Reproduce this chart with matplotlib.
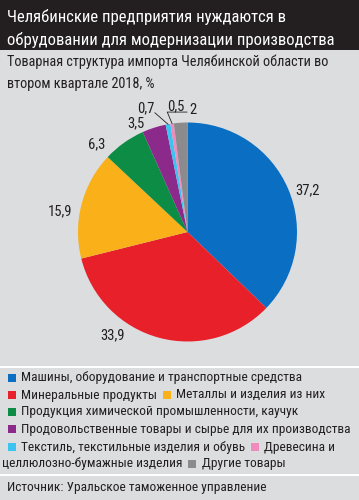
import matplotlib
matplotlib.use("Agg")
import matplotlib.pyplot as plt
from matplotlib.patches import Rectangle
from matplotlib import font_manager as fm
import numpy as np

# ---- data ----
categories = [
    "Машины, оборудование и транспортные средства",
    "Минеральные продукты",
    "Металлы и изделия из них",
    "Продукция химической промышленности, каучук",
    "Продовольственные товары и сырье для их производства",
    "Текстиль, текстильные изделия и обувь",
    "Древесина и целлюлозно-бумажные изделия",
    "Другие товары",
]
values = [37.2, 33.9, 15.9, 6.3, 3.5, 0.7, 0.5, 2]
value_labels = ["37,2", "33,9", "15,9", "6,3", "3,5", "0,7", "0,5", "2"]
colors = ["#0a6fc2", "#e8202a", "#f9b019", "#0c8c44", "#8c2a8c", "#3cc3f0", "#f08cbb", "#8b8b8d"]

title = "Челябинские предприятия нуждаются в\nобрудовании для модернизации производства"
subtitle = "Товарная структура импорта Челябинской области во\nвтором квартале 2018, %"
source = "Источник: Уральское таможенное управление"

# label placement (angle deg, radius factor)
label_pos = [(19.2, 1.165), (-126.2, 1.166), (171, 1.18), (136, 1.15),
             (115.3, 1.10), (108.5, 1.19), (95.2, 1.155), (87.4, 1.115)]

def pick_font():
    for f in ["Liberation Sans Narrow", "DejaVu Sans Condensed", "Roboto Condensed", "Open Sans Condensed"]:
        try:
            fm.findfont(fm.FontProperties(family=f), fallback_to_default=False)
            return f
        except Exception:
            pass
    return "DejaVu Sans"

FONT = pick_font()
plt.rcParams['font.family'] = [FONT, 'DejaVu Sans']

W, H = 359, 500
fig = plt.figure(figsize=(W / 100, H / 100), dpi=100)
fig.patch.set_facecolor("white")

def rect(y0, y1, color):
    fig.patches.append(Rectangle((0, 1 - y1 / H), 1, (y1 - y0) / H, transform=fig.transFigure,
                                 facecolor=color, edgecolor="none", zorder=-5))

GRAY = "#dcdddf"
DARK = "#231f20"
rect(0, 49.5, DARK)
rect(49.5, 366, GRAY)
rect(368, 474, GRAY)
rect(476, 500, GRAY)

def ftext(x, y, s, **kw):
    return fig.text(x / W, 1 - y / H, s, zorder=5, **kw)

TFS, SFS, LFS = 12.0, 10.3, 9.6
ftext(7, 17, title.split("\n")[0], color="white", fontsize=TFS, va="center")
ftext(7, 40, title.split("\n")[1], color="white", fontsize=TFS, va="center")
ftext(7, 62, subtitle.split("\n")[0], color=DARK, fontsize=SFS, va="center")
ftext(7, 84, subtitle.split("\n")[1], color=DARK, fontsize=SFS, va="center")
ftext(7, 487, source, color=DARK, fontsize=LFS, va="center")

# pie
cx, cy, r = 187.5, 232, 109.5
ax = fig.add_axes([(cx - r) / W, 1 - (cy + r) / H, 2 * r / W, 2 * r / H])
ax.set_zorder(2)
ax.patch.set_visible(False)
ax.pie(values, colors=colors, startangle=90, counterclock=False, radius=1,
       wedgeprops=dict(linewidth=0))
ax.set_xlim(-1, 1)
ax.set_ylim(-1, 1)
ax.set_aspect("equal")
ax.axis("off")
for lab, (ang, rf) in zip(value_labels, label_pos):
    a = np.deg2rad(ang)
    ax.text(rf * np.cos(a), rf * np.sin(a), lab, ha="center", va="center",
            fontsize=10.5, color=DARK, clip_on=False)

# leader lines for small slices
cum = np.cumsum([0] + values)
def edge_pt(i, frac=1.0):
    mid = 90 - 3.6 * (cum[i] + values[i] / 2)
    a = np.deg2rad(mid)
    return frac * np.cos(a), frac * np.sin(a)
lab7 = label_pos[5]; a7 = np.deg2rad(lab7[0])
p = edge_pt(5, 1.0)
ax.plot([lab7[1] * np.cos(a7) + 0.08, p[0]], [lab7[1] * np.sin(a7) - 0.04, p[1]],
        color=DARK, lw=0.6, clip_on=False)
lab5 = label_pos[6]; a5 = np.deg2rad(lab5[0])
p = edge_pt(6, 1.0)
x0, y0 = lab5[1] * np.cos(a5), lab5[1] * np.sin(a5) - 0.055
ax.plot([x0 + 0.10, x0 - 0.08, p[0]], [y0, y0, p[1]], color=DARK, lw=0.6, clip_on=False)

# legend
fig.canvas.draw()
renderer = fig.canvas.get_renderer()
rows = [[0], [1, 2], [3], [4], [5, 6]]
row_y = [378, 395, 412, 429, 447]
SQ = 8

def square(x, y, c):
    fig.patches.append(Rectangle((x / W, 1 - (y + SQ / 2) / H), SQ / W, SQ / H,
                                 transform=fig.transFigure, facecolor=c, edgecolor="none", zorder=2))

def width_of(t):
    return t.get_window_extent(renderer).width

for row, y in zip(rows, row_y):
    x = 8
    for i in row:
        square(x, y, colors[i])
        name = "Древесина и" if i == 6 else categories[i]
        t = ftext(x + SQ + 5, y, name, color=DARK, fontsize=LFS, va="center")
        x = x + SQ + 5 + width_of(t) + 6
# last row: continuation + other
t = ftext(2, 464, "целлюлозно-бумажные изделия", color=DARK, fontsize=LFS, va="center")
x = 2 + width_of(t) + 6
square(x, 464, colors[7])
ftext(x + SQ + 5, 464, categories[7], color=DARK, fontsize=LFS, va="center")

fig.savefig("out.png", dpi=100, facecolor=fig.get_facecolor())
